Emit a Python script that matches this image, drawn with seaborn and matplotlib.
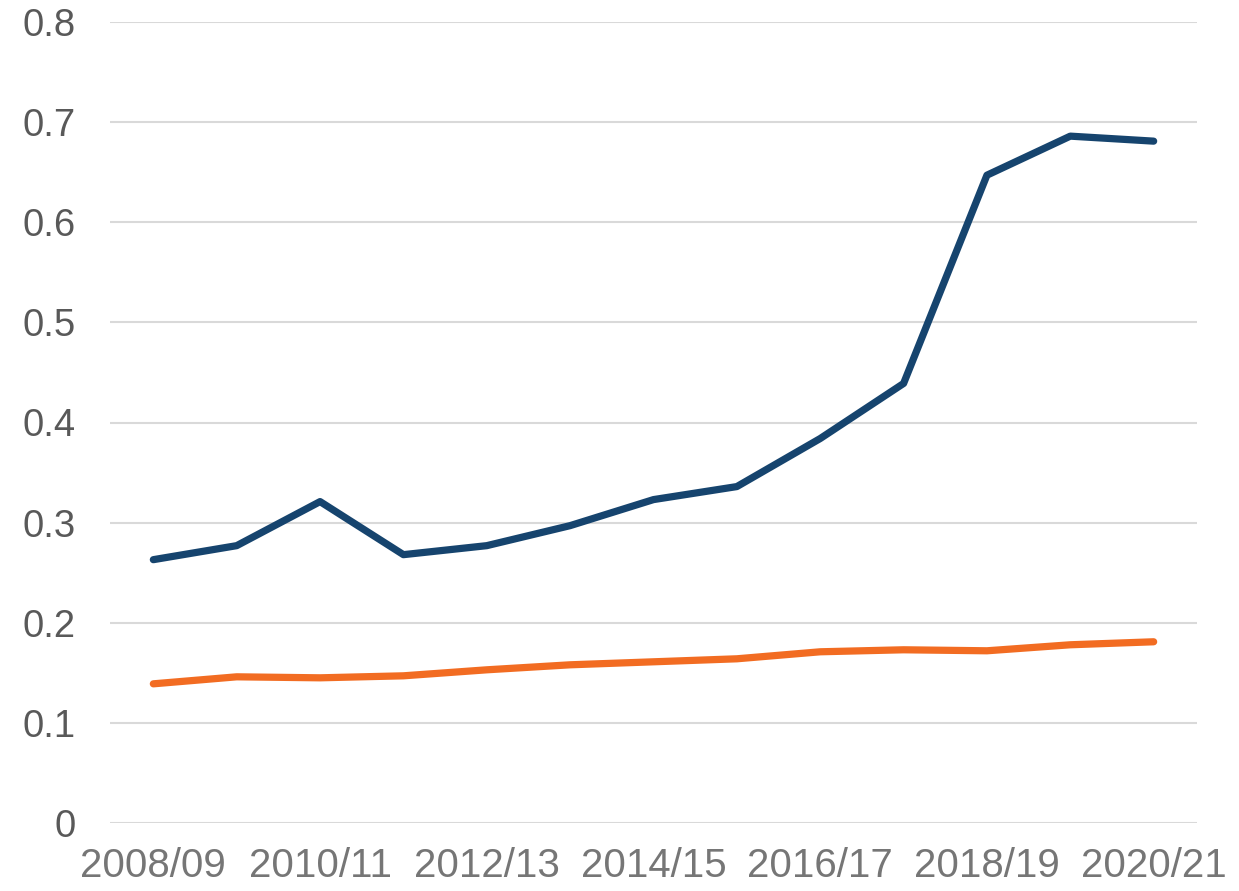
import matplotlib
matplotlib.use("Agg")
import matplotlib.pyplot as plt
import seaborn as sns
import pandas as pd

years = ["2008/09", "2009/10", "2010/11", "2011/12", "2012/13", "2013/14", "2014/15",
         "2015/16", "2016/17", "2017/18", "2018/19", "2019/20", "2020/21"]
upper = [0.263, 0.277, 0.321, 0.268, 0.277, 0.297, 0.323, 0.336, 0.384, 0.439, 0.647, 0.686, 0.681]
lower = [0.139, 0.146, 0.145, 0.147, 0.153, 0.158, 0.161, 0.164, 0.171, 0.173, 0.172, 0.178, 0.181]
y_ticks = [0, 0.1, 0.2, 0.3, 0.4, 0.5, 0.6, 0.7, 0.8]
y_tick_labels = ["0", "0.1", "0.2", "0.3", "0.4", "0.5", "0.6", "0.7", "0.8"]

sns.set_theme(style="white")
plt.rcParams["font.family"] = ["Liberation Sans", "DejaVu Sans"]

df = pd.DataFrame({
    "year": years * 2,
    "idx": list(range(len(years))) * 2,
    "value": upper + lower,
    "series": ["upper"] * len(years) + ["lower"] * len(years),
})

fig = plt.figure(figsize=(12.39, 8.91), dpi=100)
ax = fig.add_axes([110 / 1239, 1 - 823 / 891, (1197 - 110) / 1239, (823 - 22) / 891])

sns.lineplot(data=df, x="idx", y="value", hue="series",
             palette={"upper": "#16446E", "lower": "#F26C22"},
             linewidth=5.2, legend=False, ax=ax, solid_capstyle="round")

ax.set_xlim(-0.52, len(years) - 0.48)
ax.set_ylim(0, 0.8)
ax.set_yticks(y_ticks)
ax.set_yticklabels(y_tick_labels)
ax.set_xticks(range(0, len(years), 2))
ax.set_xticklabels(years[::2])
ax.set_xlabel("")
ax.set_ylabel("")

ax.yaxis.grid(True, color="#D9D9D9", linewidth=1.5)
ax.set_axisbelow(True)
for s in ax.spines.values():
    s.set_visible(False)

ax.tick_params(axis="y", length=0, pad=25, labelsize=27.5, labelcolor="#595959")
ax.tick_params(axis="x", length=0, pad=17, labelsize=29, labelcolor="#767676")

fig.savefig("out.png", dpi=100)
